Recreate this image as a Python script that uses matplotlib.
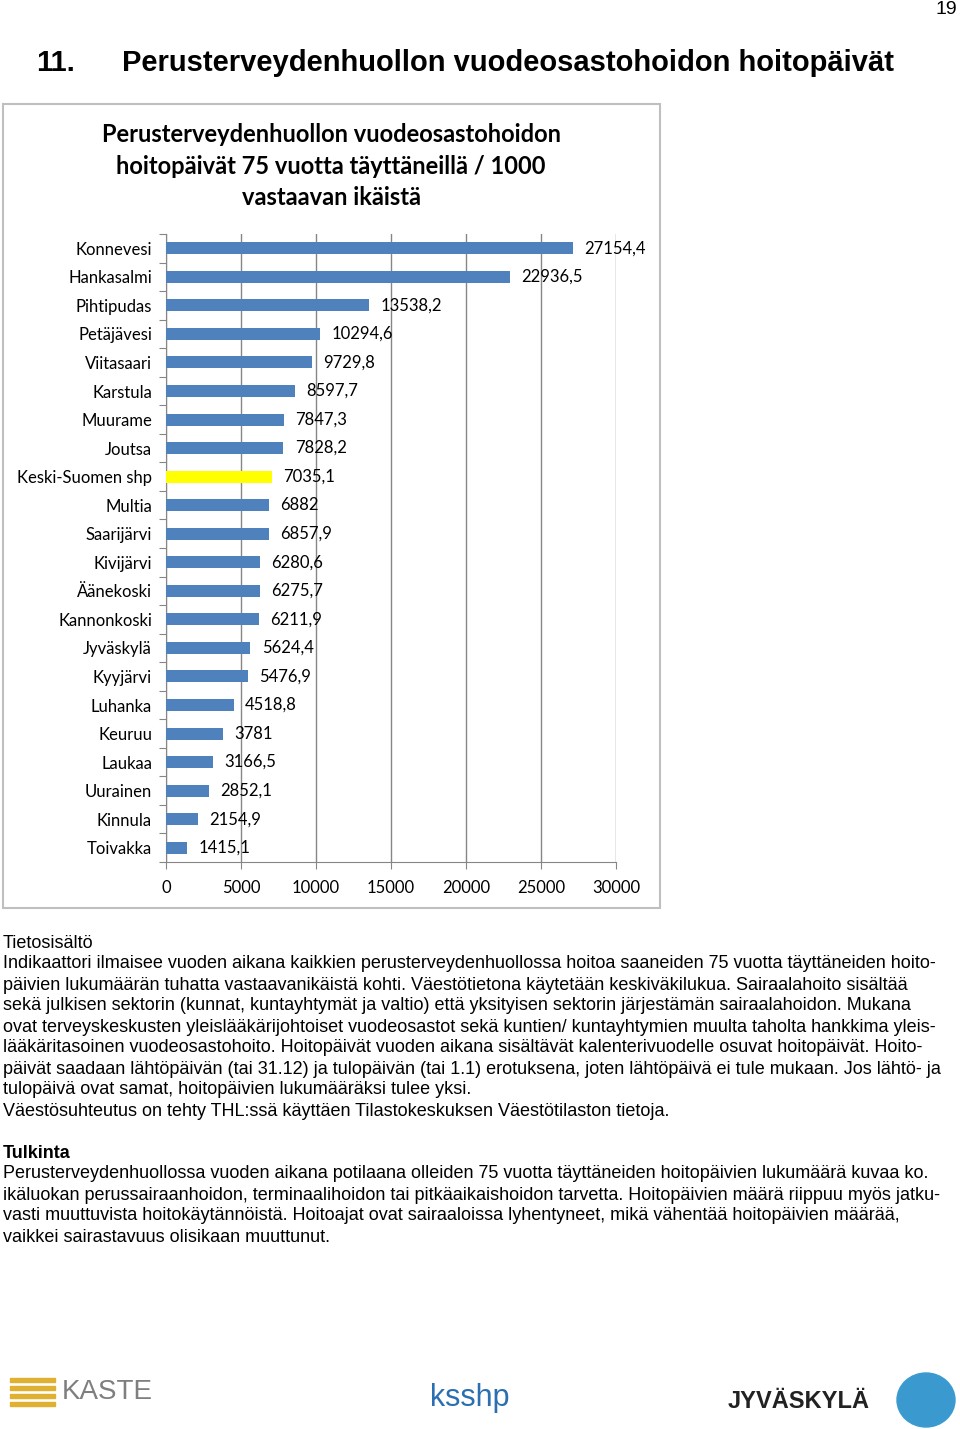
import matplotlib
matplotlib.use('Agg')
import matplotlib.pyplot as plt
from matplotlib.patches import Rectangle, Ellipse

# Data (top to bottom)
kunnat = ['Konnevesi', 'Hankasalmi', 'Pihtipudas', 'Petäjävesi', 'Viitasaari',
          'Karstula', 'Muurame', 'Joutsa', 'Keski-Suomen shp', 'Multia',
          'Saarijärvi', 'Kivijärvi', 'Äänekoski', 'Kannonkoski', 'Jyväskylä',
          'Kyyjärvi', 'Luhanka', 'Keuruu', 'Laukaa', 'Uurainen', 'Kinnula',
          'Toivakka']
arvot = [27154.4, 22936.5, 13538.2, 10294.6, 9729.8, 8597.7, 7847.3, 7828.2,
         7035.1, 6882, 6857.9, 6280.6, 6275.7, 6211.9, 5624.4, 5476.9, 4518.8,
         3781, 3166.5, 2852.1, 2154.9, 1415.1]
korostus = 'Keski-Suomen shp'
xtiks = [0, 5000, 10000, 15000, 20000, 25000, 30000]

otsikko = 'Perusterveydenhuollon vuodeosastohoidon\nhoitopäivät 75 vuotta täyttäneillä / 1000\nvastaavan ikäistä'

tietosisalto = [
    'Indikaattori ilmaisee vuoden aikana kaikkien perusterveydenhuollossa hoitoa saaneiden 75 vuotta täyttäneiden hoito-',
    'päivien lukumäärän tuhatta vastaavanikäistä kohti. Väestötietona käytetään keskiväkilukua. Sairaalahoito sisältää',
    'sekä julkisen sektorin (kunnat, kuntayhtymät ja valtio) että yksityisen sektorin järjestämän sairaalahoidon. Mukana',
    'ovat terveyskeskusten yleislääkärijohtoiset vuodeosastot sekä kuntien/ kuntayhtymien muulta taholta hankkima yleis-',
    'lääkäritasoinen vuodeosastohoito. Hoitopäivät vuoden aikana sisältävät kalenterivuodelle osuvat hoitopäivät. Hoito-',
    'päivät saadaan lähtöpäivän (tai 31.12) ja tulopäivän (tai 1.1) erotuksena, joten lähtöpäivä ei tule mukaan. Jos lähtö- ja',
    'tulopäivä ovat samat, hoitopäivien lukumääräksi tulee yksi.',
    'Väestösuhteutus on tehty THL:ssä käyttäen Tilastokeskuksen Väestötilaston tietoja.',
]
tulkinta = [
    'Perusterveydenhuollossa vuoden aikana potilaana olleiden 75 vuotta täyttäneiden hoitopäivien lukumäärä kuvaa ko.',
    'ikäluokan perussairaanhoidon, terminaalihoidon tai pitkäaikaishoidon tarvetta. Hoitopäivien määrä riippuu myös jatku-',
    'vasti muuttuvista hoitokäytännöistä. Hoitoajat ovat sairaaloissa lyhentyneet, mikä vähentää hoitopäivien määrää,',
    'vaikkei sairastavuus olisikaan muuttunut.',
]

W, H = 960, 1429
chart_font = ['Lato', 'DejaVu Sans']
body_font = ['Liberation Sans', 'DejaVu Sans']

fig = plt.figure(figsize=(W / 100, H / 100), dpi=100)


def fx(px):
    return px / W


def fy(py):
    return 1 - py / H


# page number and heading
fig.text(fx(957), fy(10), '19', ha='right', va='center', fontsize=14,
         family=body_font)
fig.text(fx(36), fy(63), '11.', ha='left', va='center', fontsize=21,
         fontweight='bold', family=body_font)
fig.text(fx(122), fy(63), 'Perusterveydenhuollon vuodeosastohoidon hoitopäivät',
         ha='left', va='center', fontsize=21, fontweight='bold',
         family=body_font)

# chart frame
fig.patches.append(Rectangle((fx(3), fy(908)), fx(657), (908 - 104) / H,
                             transform=fig.transFigure, fill=False,
                             edgecolor='#bfbfbf', linewidth=1.5))
fig.text(fx(331), fy(166), otsikko, ha='center', va='center', fontsize=17,
         fontweight='bold', family=chart_font, linespacing=1.45)

ax = fig.add_axes([fx(166), fy(862), fx(616) - fx(166), (862 - 234) / H])
y = list(range(len(kunnat)))
colors = ['#ffff00' if k == korostus else '#4f81bd' for k in kunnat]
ax.barh(y, arvot, height=0.42, color=colors, zorder=3)
ax.set_ylim(len(kunnat) - 0.5, -0.5)
ax.set_xlim(0, 30000)
ax.set_xticks(xtiks)
ax.set_xticklabels([str(t) for t in xtiks], fontsize=12, family=chart_font)
ax.set_yticks([i + 0.5 for i in range(-1, len(kunnat))], minor=False)
ax.set_yticklabels([])
ax.set_yticks(y, minor=True)
ax.set_yticklabels(kunnat, minor=True, fontsize=12, family=chart_font)
ax.tick_params(axis='y', which='minor', length=0, pad=10)
ax.tick_params(axis='y', which='major', length=5, color='#868686')
ax.tick_params(axis='x', length=5, color='#868686', pad=8)
ax.grid(axis='x', color='#868686', linewidth=1, zorder=0)
for s in ['top', 'right']:
    ax.spines[s].set_visible(False)
ax.spines['left'].set_color('#868686')
ax.spines['bottom'].set_color('#868686')
for i, v in enumerate(arvot):
    ax.text(v + 750, i, ('%g' % v).replace('.', ','), va='center', ha='left',
            fontsize=12, family=chart_font, zorder=4)

# body text
fig.text(fx(3), fy(943), 'Tietosisältö', ha='left', va='center', fontsize=13,
         family=body_font)
for i, rivi in enumerate(tietosisalto):
    fig.text(fx(3), fy(964 + 21 * i), rivi, ha='left', va='center',
             fontsize=13, family=body_font)
fig.text(fx(3), fy(1153), 'Tulkinta', ha='left', va='center', fontsize=13,
         fontweight='bold', family=body_font)
for i, rivi in enumerate(tulkinta):
    fig.text(fx(3), fy(1174 + 21 * i), rivi, ha='left', va='center',
             fontsize=13, family=body_font)

# logos (as text)
fig.text(fx(62), fy(1392), 'KASTE', ha='left', va='center', fontsize=20,
         color='#7f7f7f', family=body_font)
for k in range(4):
    fig.patches.append(Rectangle((fx(10), fy(1382 + 8 * k)), fx(45), 4 / H,
                                 transform=fig.transFigure, color='#e0b030'))
fig.text(fx(430), fy(1398), 'ksshp', ha='left', va='center', fontsize=22,
         color='#2a6fb0', family=body_font)
fig.text(fx(728), fy(1402), 'JYVÄSKYLÄ', ha='left', va='center', fontsize=17,
         color='#222222', fontweight='bold', family=body_font)
fig.patches.append(Ellipse((fx(926), fy(1400)), fx(58), 54 / H,
                           transform=fig.transFigure, color='#3a9ad0'))

fig.savefig('out.png', dpi=100)
